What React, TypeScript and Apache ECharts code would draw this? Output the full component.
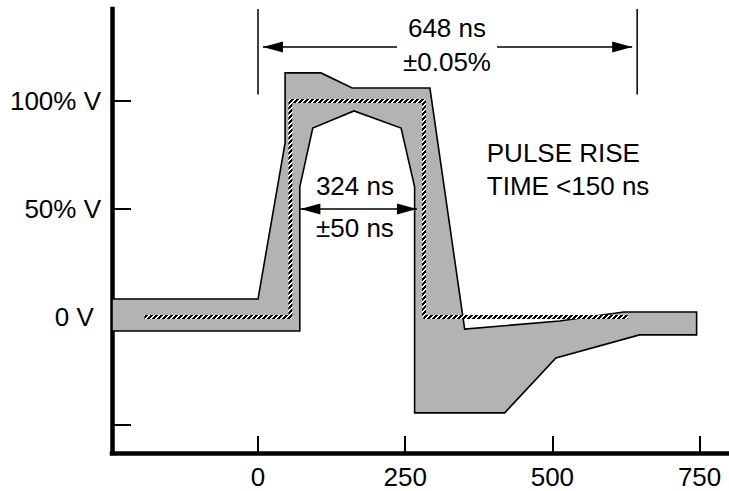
import React, { useEffect, useRef } from "react";
import * as echarts from "echarts";

// ---- axis ticks / labels ----
const xTickValues = [0, 250, 500, 750];
const yTickValues = [-50, 0, 50, 100];
const yLabelValues = [0, 50, 100];
const yLabelTexts = ["0 V ", "50% V", "100% V"];

// ---- pulse mask (time in ns, level in % of V) ----
// upper limit, left to right
const upperTime = [-248, 0, 46, 46, 107, 160, 292, 351, 512, 621, 745];
const upperLevel = [8.3, 8.3, 80.6, 113, 113, 106, 106, -5.6, -1.9, 2.3, 2.3];
// lower limit, right to left
const lowerTime = [745, 648, 506, 419, 266, 266, 243, 163, 93, 71, 71, -248];
const lowerLevel = [-8.3, -8.3, -19, -44.4, -44.4, 60.2, 87.5, 95.4, 87.5, 60.2, -6.5, -6.5];

// ---- nominal pulse ----
const nominalTime = [-193, 55, 55, 282, 282, 628];
const nominalLevel = [0, 0, 100, 100, 0, 0];

// ---- annotations (data coordinates) ----
const widthDimTime = [0, 644];
const widthDimLevel = 125;
const widthDimGap = [236, 406];
const widthDimExt = [142.6, 103];
const widthLabels = ["648 ns", "±0.05%"];
const widthLabelPos = [[321, 134], [321, 118.2]];

const innerDimTime = [72, 270];
const innerDimLevel = 50;
const innerLabels = ["324 ns", "±50 ns"];
const innerLabelPos = [[164.6, 60.7], [164.6, 41.2]];

const riseLabels = ["PULSE RISE", "TIME <150 ns"];
const riseLabelPos = [[388.6, 75.9], [388.6, 60.6]];

const FONT = '"Liberation Sans", Arial, Helvetica, sans-serif';
const FS = 26;

function makeHatch(): HTMLCanvasElement {
  const n = 5;
  const c = document.createElement("canvas");
  c.width = n;
  c.height = n;
  const ctx = c.getContext("2d")!;
  const img = ctx.createImageData(n, n);
  for (let y = 0; y < n; y++) {
    for (let x = 0; x < n; x++) {
      const k = (y * n + x) * 4;
      const dark = (x + y) % n < 3;
      const v = dark ? 0 : 255;
      img.data[k] = v;
      img.data[k + 1] = v;
      img.data[k + 2] = v;
      img.data[k + 3] = 255;
    }
  }
  ctx.putImageData(img, 0, 0);
  return c;
}

export default function App() {
  const ref = useRef<HTMLDivElement>(null);
  useEffect(() => {
    if (!ref.current) return;
    const chart = echarts.init(ref.current, undefined, { renderer: "svg" });
    const maskPoints: number[][] = [];
    upperTime.forEach((t, i) => maskPoints.push([t, upperLevel[i]]));
    lowerTime.forEach((t, i) => maskPoints.push([t, lowerLevel[i]]));
    const nominal = nominalTime.map((t, i) => [t, nominalLevel[i]]);
    const hatch = makeHatch();

    chart.setOption({
      animation: false,
      grid: { left: 112, right: 0, top: 9, bottom: 38, containLabel: false },
      xAxis: {
        type: "value",
        min: -248,
        max: 800,
        splitLine: { show: false },
        axisLine: { onZero: false, lineStyle: { color: "#000", width: 4.5, cap: "square" } },
        axisTick: { inside: true, length: 17, lineStyle: { color: "#000", width: 2 }, customValues: xTickValues },
        axisLabel: {
          customValues: xTickValues,
          color: "#000",
          fontSize: FS,
          fontFamily: FONT,
          margin: 11,
        },
      },
      yAxis: {
        type: "value",
        min: -63,
        max: 142.6,
        splitLine: { show: false },
        axisLine: { onZero: false, lineStyle: { color: "#000", width: 4.5, cap: "square" } },
        axisTick: { inside: true, length: 19, lineStyle: { color: "#000", width: 2 }, customValues: yTickValues },
        axisLabel: {
          customValues: yLabelValues,
          formatter: (v: number) => {
            const i = yLabelValues.indexOf(Math.round(v));
            return i >= 0 ? yLabelTexts[i] : "";
          },
          color: "#000",
          fontSize: FS,
          fontFamily: FONT,
          margin: 11,
        },
      },
      series: [
        {
          type: "custom",
          data: maskPoints,
          encode: { x: 0, y: 1 },
          clip: false,
          renderItem: (params: any, api: any) => {
            if (params.dataIndex !== 0) return null;
            const pts = maskPoints.map((p) => api.coord(p));
            return {
              type: "polygon",
              shape: { points: pts },
              style: { fill: "#b3b3b3", stroke: "#000", lineWidth: 1.6 },
            };
          },
          z: 1,
        },
        {
          type: "line",
          data: nominal,
          symbol: "none",
          lineStyle: { color: "#fff", width: 4 },
          z: 2,
        },
        {
          type: "line",
          data: nominal,
          symbol: "none",
          lineStyle: { color: { image: hatch, repeat: "repeat" }, width: 4 },
          z: 3,
        },
      ],
    });

    const px = (x: number, y: number) => chart.convertToPixel({ xAxisIndex: 0, yAxisIndex: 0 }, [x, y]) as number[];
    const graphics: any[] = [];
    const line = (a: number[], b: number[], w = 1.5) =>
      graphics.push({ type: "line", shape: { x1: a[0], y1: a[1], x2: b[0], y2: b[1] }, style: { stroke: "#000", lineWidth: w }, z: 10 });
    const arrow = (tip: number[], dir: number) =>
      graphics.push({
        type: "polygon",
        shape: { points: [tip, [tip[0] - dir * 20, tip[1] - 5.5], [tip[0] - dir * 20, tip[1] + 5.5]] },
        style: { fill: "#000" },
        z: 10,
      });
    const text = (t: string, p: number[], align: string) =>
      graphics.push({
        type: "text",
        style: { text: t, x: p[0], y: p[1], fill: "#000", fontSize: FS, fontFamily: FONT, align, verticalAlign: "middle" },
        z: 10,
      });

    // total width dimension
    widthDimTime.forEach((t) => line(px(t, widthDimExt[0]), px(t, widthDimExt[1]), 1.5));
    const l0 = px(widthDimTime[0], widthDimLevel);
    const l1 = px(widthDimTime[1], widthDimLevel);
    const g0 = px(widthDimGap[0], widthDimLevel);
    const g1 = px(widthDimGap[1], widthDimLevel);
    line([l0[0] + 5, l0[1]], g0);
    line(g1, [l1[0] - 5, l1[1]]);
    arrow([l0[0] + 5, l0[1]], -1);
    arrow([l1[0] - 5, l1[1]], 1);
    widthLabels.forEach((s, i) => text(s, px(widthLabelPos[i][0], widthLabelPos[i][1]), "center"));

    // inner width dimension
    const m0 = px(innerDimTime[0], innerDimLevel);
    const m1 = px(innerDimTime[1], innerDimLevel);
    line(m0, m1);
    arrow(m0, -1);
    arrow(m1, 1);
    innerLabels.forEach((s, i) => text(s, px(innerLabelPos[i][0], innerLabelPos[i][1]), "center"));

    riseLabels.forEach((s, i) => text(s, px(riseLabelPos[i][0], riseLabelPos[i][1]), "left"));

    chart.setOption({ graphic: graphics });

    return () => chart.dispose();
  }, []);

  return (
    <div
      ref={ref}
      style={{ position: "absolute", left: 0, top: 0, width: 729, height: 491, background: "#fff" }}
    />
  );
}
